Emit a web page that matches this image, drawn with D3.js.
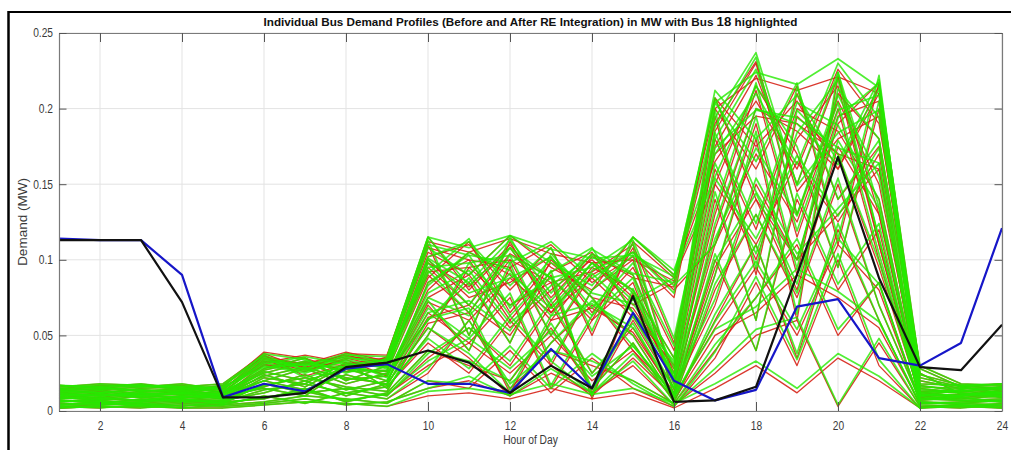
<!DOCTYPE html>
<html>
<head>
<meta charset="utf-8">
<script src="https://cdn.jsdelivr.net/npm/d3@7/dist/d3.min.js"></script>
<style>
  body { margin: 0; background: #fff; }
  svg { display: block; }
  text { font-family: "Liberation Sans", Arial, Helvetica, sans-serif; }
</style>
</head>
<body>
<svg id="chart" width="1011" height="450"></svg>
<script>
// Hours of the day on the x axis
const hours = [1,2,3,4,5,6,7,8,9,10,11,12,13,14,15,16,17,18,19,20,21,22,23,24];
const xTickValues = [2,4,6,8,10,12,14,16,18,20,22,24];
const yTickValues = [0,0.05,0.1,0.15,0.2,0.25];
const yTickLabels = ["0","0.05","0.1","0.15","0.2","0.25"];

// Demand profiles (MW) of the other buses before RE integration (red)
const busBefore = [
  [0.012,0.014,0.011,0.013,0.010,0.031,0.026,0.035,0.029,0.095,0.070,0.104,0.088,0.060,0.108,0.020,0.175,0.222,0.150,0.221,0.130,0.012,0.010,0.014],
  [0.006,0.008,0.007,0.009,0.011,0.020,0.028,0.018,0.025,0.060,0.085,0.045,0.100,0.075,0.040,0.012,0.120,0.200,0.185,0.160,0.210,0.010,0.014,0.009],
  [0.015,0.017,0.016,0.018,0.014,0.037,0.023,0.031,0.035,0.110,0.050,0.112,0.065,0.098,0.070,0.085,0.207,0.140,0.100,0.190,0.217,0.028,0.016,0.012],
  [0.003,0.004,0.005,0.003,0.006,0.008,0.015,0.006,0.012,0.040,0.030,0.020,0.055,0.015,0.045,0.006,0.060,0.110,0.035,0.120,0.060,0.004,0.003,0.005],
  [0.010,0.009,0.012,0.011,0.013,0.025,0.032,0.022,0.018,0.085,0.100,0.060,0.092,0.105,0.065,0.030,0.195,0.090,0.210,0.140,0.175,0.015,0.012,0.011],
  [0.008,0.011,0.009,0.007,0.010,0.015,0.010,0.028,0.020,0.070,0.040,0.095,0.030,0.080,0.100,0.010,0.090,0.180,0.060,0.221,0.110,0.008,0.010,0.013],
  [0.014,0.012,0.015,0.016,0.012,0.034,0.031,0.037,0.031,0.102,0.110,0.080,0.108,0.050,0.112,0.088,0.150,0.215,0.170,0.095,0.200,0.020,0.015,0.016],
  [0.004,0.006,0.003,0.005,0.004,0.010,0.005,0.012,0.008,0.025,0.060,0.015,0.040,0.030,0.020,0.005,0.040,0.075,0.110,0.050,0.085,0.006,0.004,0.003],
  [0.017,0.016,0.018,0.015,0.016,0.039,0.035,0.026,0.036,0.115,0.080,0.108,0.070,0.102,0.090,0.025,0.185,0.230,0.130,0.205,0.150,0.018,0.017,0.015],
  [0.009,0.007,0.010,0.012,0.008,0.022,0.018,0.032,0.015,0.050,0.095,0.070,0.085,0.012,0.060,0.015,0.140,0.060,0.195,0.170,0.095,0.010,0.008,0.010],
  [0.011,0.013,0.010,0.009,0.012,0.028,0.035,0.020,0.030,0.090,0.065,0.100,0.050,0.090,0.105,0.080,0.110,0.190,0.090,0.210,0.180,0.025,0.011,0.012],
  [0.002,0.003,0.002,0.004,0.003,0.005,0.008,0.004,0.006,0.015,0.020,0.010,0.025,0.012,0.030,0.004,0.025,0.050,0.060,0.003,0.045,0.003,0.002,0.004],
  [0.013,0.015,0.014,0.012,0.015,0.033,0.027,0.034,0.023,0.080,0.105,0.090,0.060,0.095,0.080,0.035,0.200,0.160,0.215,0.110,0.217,0.014,0.013,0.016],
  [0.007,0.005,0.008,0.006,0.007,0.012,0.020,0.010,0.018,0.055,0.035,0.010,0.045,0.070,0.050,0.008,0.080,0.130,0.075,0.150,0.070,0.007,0.009,0.006],
  [0.016,0.018,0.017,0.014,0.017,0.036,0.031,0.039,0.033,0.105,0.090,0.116,0.095,0.080,0.115,0.090,0.165,0.205,0.160,0.226,0.190,0.030,0.018,0.017],
  [0.005,0.004,0.006,0.008,0.005,0.018,0.012,0.015,0.010,0.035,0.055,0.030,0.070,0.025,0.055,0.010,0.100,0.040,0.140,0.080,0.120,0.005,0.006,0.007],
  [0.012,0.010,0.013,0.014,0.011,0.027,0.033,0.026,0.027,0.100,0.075,0.085,0.102,0.065,0.095,0.040,0.180,0.120,0.200,0.185,0.140,0.012,0.014,0.012],
  [0.010,0.012,0.009,0.010,0.009,0.024,0.016,0.030,0.024,0.075,0.090,0.055,0.080,0.100,0.075,0.020,0.130,0.212,0.115,0.195,0.205,0.011,0.009,0.011],
  [0.003,0.002,0.004,0.002,0.004,0.006,0.010,0.008,0.005,0.020,0.015,0.040,0.012,0.035,0.015,0.003,0.035,0.085,0.030,0.100,0.030,0.002,0.004,0.002],
  [0.015,0.014,0.016,0.017,0.014,0.035,0.029,0.036,0.034,0.108,0.100,0.095,0.110,0.085,0.102,0.075,0.207,0.175,0.205,0.160,0.215,0.022,0.016,0.018],
  [0.008,0.009,0.007,0.010,0.008,0.016,0.024,0.014,0.020,0.065,0.045,0.075,0.015,0.060,0.085,0.014,0.070,0.150,0.100,0.130,0.160,0.009,0.007,0.008],
  [0.011,0.010,0.012,0.011,0.010,0.026,0.020,0.028,0.026,0.088,0.112,0.065,0.098,0.075,0.068,0.028,0.160,0.100,0.180,0.215,0.110,0.013,0.012,0.010],
  [0.006,0.007,0.005,0.007,0.006,0.014,0.018,0.012,0.016,0.045,0.025,0.060,0.030,0.010,0.035,0.009,0.055,0.095,0.050,0.110,0.080,0.006,0.005,0.007],
  [0.014,0.016,0.013,0.015,0.013,0.032,0.037,0.032,0.030,0.098,0.082,0.110,0.075,0.104,0.088,0.082,0.190,0.231,0.145,0.180,0.195,0.016,0.015,0.014],
  [0.009,0.008,0.011,0.009,0.009,0.020,0.014,0.024,0.017,0.062,0.070,0.050,0.090,0.008,0.078,0.018,0.110,0.170,0.125,0.200,0.100,0.010,0.011,0.009],
  [0.004,0.005,0.004,0.006,0.005,0.009,0.013,0.007,0.011,0.030,0.045,0.025,0.050,0.020,0.040,0.007,0.050,0.065,0.090,0.075,0.055,0.005,0.005,0.004],
  [0.013,0.012,0.014,0.013,0.016,0.030,0.032,0.030,0.032,0.092,0.095,0.100,0.085,0.092,0.110,0.045,0.170,0.195,0.190,0.170,0.160,0.017,0.013,0.015],
  [0.007,0.006,0.006,0.008,0.007,0.017,0.022,0.016,0.013,0.058,0.065,0.012,0.060,0.068,0.052,0.012,0.095,0.140,0.080,0.175,0.130,0.008,0.007,0.006],
  [0.017,0.015,0.017,0.016,0.018,0.038,0.028,0.038,0.037,0.112,0.105,0.114,0.104,0.098,0.100,0.086,0.200,0.220,0.212,0.221,0.210,0.024,0.017,0.018],
  [0.002,0.003,0.003,0.002,0.002,0.004,0.006,0.005,0.003,0.010,0.012,0.008,0.015,0.008,0.012,0.002,0.015,0.030,0.012,0.035,0.020,0.002,0.003,0.002],
  [0.010,0.011,0.010,0.012,0.011,0.023,0.029,0.021,0.023,0.072,0.060,0.088,0.065,0.088,0.062,0.022,0.150,0.110,0.165,0.125,0.170,0.011,0.010,0.012]
];

// Demand profiles (MW) of the other buses after RE integration (green)
const busAfter = [
  [0.012,0.014,0.011,0.013,0.010,0.030,0.025,0.034,0.028,0.098,0.070,0.108,0.088,0.063,0.111,0.020,0.180,0.226,0.150,0.224,0.135,0.012,0.010,0.014],
  [0.006,0.008,0.007,0.009,0.011,0.020,0.028,0.018,0.025,0.060,0.088,0.045,0.104,0.075,0.043,0.012,0.124,0.200,0.190,0.163,0.213,0.010,0.014,0.009],
  [0.015,0.017,0.016,0.018,0.014,0.036,0.022,0.030,0.034,0.113,0.050,0.115,0.068,0.098,0.073,0.088,0.207,0.145,0.100,0.194,0.217,0.028,0.016,0.012],
  [0.003,0.004,0.005,0.003,0.006,0.008,0.015,0.006,0.012,0.040,0.033,0.020,0.058,0.015,0.045,0.006,0.064,0.110,0.038,0.124,0.060,0.004,0.003,0.005],
  [0.010,0.009,0.012,0.011,0.013,0.025,0.032,0.022,0.018,0.085,0.103,0.063,0.092,0.108,0.065,0.033,0.199,0.094,0.214,0.140,0.179,0.015,0.012,0.011],
  [0.008,0.011,0.009,0.007,0.010,0.015,0.010,0.028,0.020,0.073,0.040,0.098,0.033,0.080,0.103,0.010,0.090,0.185,0.064,0.224,0.114,0.008,0.010,0.013],
  [0.014,0.012,0.015,0.016,0.012,0.033,0.030,0.036,0.030,0.102,0.112,0.083,0.108,0.053,0.115,0.090,0.155,0.215,0.175,0.095,0.205,0.020,0.015,0.016],
  [0.004,0.006,0.003,0.005,0.004,0.010,0.005,0.012,0.008,0.028,0.060,0.018,0.040,0.033,0.020,0.005,0.044,0.075,0.114,0.054,0.085,0.006,0.004,0.003],
  [0.017,0.016,0.018,0.015,0.016,0.038,0.034,0.025,0.035,0.115,0.083,0.108,0.073,0.104,0.090,0.028,0.188,0.234,0.130,0.209,0.155,0.018,0.017,0.015],
  [0.009,0.007,0.010,0.012,0.008,0.022,0.018,0.032,0.015,0.050,0.098,0.070,0.088,0.014,0.063,0.015,0.145,0.060,0.199,0.170,0.099,0.010,0.008,0.010],
  [0.011,0.013,0.010,0.009,0.012,0.028,0.035,0.020,0.030,0.093,0.065,0.103,0.050,0.093,0.105,0.083,0.110,0.195,0.094,0.213,0.180,0.025,0.011,0.012],
  [0.002,0.003,0.002,0.004,0.003,0.005,0.008,0.004,0.006,0.015,0.023,0.010,0.028,0.012,0.033,0.004,0.028,0.054,0.062,0.004,0.048,0.003,0.002,0.004],
  [0.013,0.015,0.014,0.012,0.015,0.032,0.026,0.033,0.022,0.083,0.105,0.093,0.063,0.098,0.080,0.035,0.204,0.165,0.217,0.114,0.222,0.014,0.013,0.016],
  [0.007,0.005,0.008,0.006,0.007,0.012,0.020,0.010,0.018,0.055,0.038,0.012,0.045,0.073,0.050,0.008,0.084,0.130,0.078,0.154,0.070,0.007,0.009,0.006],
  [0.016,0.018,0.017,0.014,0.017,0.035,0.030,0.038,0.032,0.108,0.090,0.116,0.098,0.083,0.115,0.093,0.170,0.210,0.163,0.230,0.194,0.030,0.018,0.017],
  [0.005,0.004,0.006,0.008,0.005,0.018,0.012,0.015,0.010,0.038,0.055,0.033,0.073,0.025,0.058,0.010,0.104,0.040,0.144,0.084,0.124,0.005,0.006,0.007],
  [0.012,0.010,0.013,0.014,0.011,0.027,0.033,0.026,0.027,0.100,0.078,0.088,0.102,0.068,0.098,0.043,0.184,0.124,0.204,0.189,0.140,0.012,0.014,0.012],
  [0.010,0.012,0.009,0.010,0.009,0.024,0.016,0.030,0.024,0.078,0.093,0.058,0.083,0.103,0.078,0.023,0.134,0.217,0.119,0.199,0.209,0.011,0.009,0.011],
  [0.003,0.002,0.004,0.002,0.004,0.006,0.010,0.008,0.005,0.020,0.018,0.043,0.015,0.038,0.018,0.003,0.039,0.089,0.034,0.104,0.034,0.002,0.004,0.002],
  [0.015,0.014,0.016,0.017,0.014,0.034,0.028,0.035,0.033,0.110,0.103,0.098,0.112,0.088,0.105,0.078,0.212,0.180,0.209,0.165,0.219,0.022,0.016,0.018],
  [0.008,0.009,0.007,0.010,0.008,0.016,0.024,0.014,0.020,0.068,0.048,0.078,0.017,0.063,0.088,0.017,0.074,0.154,0.104,0.134,0.164,0.009,0.007,0.008],
  [0.011,0.010,0.012,0.011,0.010,0.026,0.020,0.028,0.026,0.091,0.114,0.068,0.101,0.078,0.071,0.031,0.164,0.104,0.184,0.219,0.114,0.013,0.012,0.010],
  [0.006,0.007,0.005,0.007,0.006,0.014,0.018,0.012,0.016,0.048,0.028,0.063,0.033,0.012,0.038,0.009,0.059,0.099,0.054,0.114,0.084,0.006,0.005,0.007],
  [0.014,0.016,0.013,0.015,0.013,0.031,0.036,0.031,0.029,0.101,0.085,0.113,0.078,0.107,0.091,0.085,0.194,0.237,0.149,0.184,0.199,0.016,0.015,0.014],
  [0.009,0.008,0.011,0.009,0.009,0.020,0.014,0.024,0.017,0.065,0.073,0.053,0.093,0.010,0.081,0.021,0.114,0.174,0.129,0.204,0.104,0.010,0.011,0.009],
  [0.004,0.005,0.004,0.006,0.005,0.009,0.013,0.007,0.011,0.033,0.048,0.028,0.053,0.023,0.043,0.010,0.054,0.069,0.094,0.079,0.059,0.005,0.005,0.004],
  [0.013,0.012,0.014,0.013,0.016,0.029,0.031,0.029,0.031,0.095,0.098,0.103,0.088,0.095,0.113,0.048,0.174,0.199,0.194,0.174,0.164,0.017,0.013,0.015],
  [0.007,0.006,0.006,0.008,0.007,0.017,0.022,0.016,0.013,0.061,0.068,0.014,0.063,0.071,0.055,0.015,0.099,0.144,0.084,0.179,0.134,0.008,0.007,0.006],
  [0.017,0.015,0.017,0.016,0.018,0.037,0.027,0.037,0.036,0.115,0.108,0.116,0.107,0.101,0.103,0.089,0.204,0.224,0.216,0.233,0.214,0.024,0.017,0.018],
  [0.002,0.003,0.003,0.002,0.002,0.004,0.006,0.005,0.003,0.013,0.015,0.011,0.018,0.011,0.015,0.005,0.018,0.033,0.015,0.038,0.023,0.002,0.003,0.002],
  [0.010,0.011,0.010,0.012,0.011,0.023,0.029,0.021,0.023,0.075,0.063,0.091,0.068,0.091,0.065,0.025,0.154,0.114,0.169,0.129,0.174,0.011,0.010,0.012]
];

// Bus 18, the highlighted bus
const bus18Before = [0.114,0.113,0.113,0.090,0.009,0.018,0.013,0.028,0.031,0.018,0.018,0.012,0.041,0.015,0.065,0.020,0.007,0.014,0.069,0.074,0.035,0.030,0.045,0.121];
const bus18After  = [0.113,0.113,0.113,0.072,0.009,0.009,0.012,0.029,0.032,0.040,0.032,0.012,0.030,0.015,0.076,0.006,0.007,0.016,0.090,0.168,0.088,0.029,0.027,0.057];

const titleMain = "Individual Bus Demand Profiles (Before and After RE Integration) in MW with Bus ";
const titleBus = "18";
const titleEnd = " highlighted";
const xLabel = "Hour of Day";
const yLabel = "Demand (MW)";

const svg = d3.select("#chart");
const plot = { left: 59, right: 1002, top: 33, bottom: 411 };

const x = d3.scaleLinear().domain([1, 24]).range([plot.left, plot.right]);
const y = d3.scaleLinear().domain([0, 0.25]).range([plot.bottom, plot.top]);

// Figure frame (top and left edges)
svg.append("line").attr("x1", 8.5).attr("x2", 1011).attr("y1", 12).attr("y2", 12)
  .attr("stroke", "#000").attr("stroke-width", 2);
svg.append("line").attr("x1", 8.5).attr("x2", 8.5).attr("y1", 11).attr("y2", 450)
  .attr("stroke", "#000").attr("stroke-width", 2.5);

// Grid
const grid = svg.append("g");
grid.selectAll("line.gx").data(xTickValues).join("line")
  .attr("x1", d => x(d)).attr("x2", d => x(d))
  .attr("y1", plot.top).attr("y2", plot.bottom)
  .attr("stroke", "#e3e3e3").attr("stroke-width", 1);
grid.selectAll("line.gy").data(yTickValues).join("line")
  .attr("y1", d => y(d)).attr("y2", d => y(d))
  .attr("x1", plot.left).attr("x2", plot.right)
  .attr("stroke", "#e3e3e3").attr("stroke-width", 1);

// Profile lines
const line = d3.line().x((d, i) => x(hours[i])).y(d => y(d));
const lines = svg.append("g").attr("fill", "none").attr("stroke-linejoin", "round");
lines.selectAll("path.before").data(busBefore).join("path")
  .attr("class", "before")
  .attr("d", line)
  .attr("stroke", "#d62418").attr("stroke-opacity", 0.9).attr("stroke-width", 1.3);
lines.selectAll("path.after").data(busAfter).join("path")
  .attr("class", "after")
  .attr("d", line)
  .attr("stroke", "#26ea00").attr("stroke-opacity", 0.8).attr("stroke-width", 1.7);
lines.append("path").attr("d", line(bus18Before))
  .attr("stroke", "#1616c8").attr("stroke-width", 2.2);
lines.append("path").attr("d", line(bus18After))
  .attr("stroke", "#111").attr("stroke-width", 2.2);

// Axes with inward ticks on all four sides
function squeeze(sel, f) {
  sel.each(function () {
    const w = this.getComputedTextLength();
    d3.select(this).attr("textLength", w * f).attr("lengthAdjust", "spacingAndGlyphs");
  });
}
function styleAxis(g) {
  g.select(".domain").attr("stroke", "#7a7a7a").attr("stroke-width", 1.2);
  g.selectAll(".tick line").attr("stroke", "#555").attr("stroke-width", 1);
  g.selectAll(".tick text").attr("fill", "#3a3a3a").style("font-size", "12px")
    .style("font-family", "'Liberation Sans', Arial, sans-serif");
}

const xAxis = svg.append("g").attr("transform", `translate(0,${plot.bottom})`)
  .call(d3.axisBottom(x).tickValues(xTickValues).tickFormat(d3.format("d"))
    .tickSizeInner(-9).tickSizeOuter(0).tickPadding(10));
styleAxis(xAxis);
squeeze(xAxis.selectAll(".tick text"), 0.85);

const xTop = svg.append("g").attr("transform", `translate(0,${plot.top})`)
  .call(d3.axisTop(x).tickValues(xTickValues).tickSizeInner(-9).tickSizeOuter(0).tickFormat(""));
styleAxis(xTop);

const yAxis = svg.append("g").attr("transform", `translate(${plot.left},0)`)
  .call(d3.axisLeft(y).tickValues(yTickValues).tickFormat((d, i) => yTickLabels[i])
    .tickSizeInner(-7.5).tickSizeOuter(0).tickPadding(6));
styleAxis(yAxis);
squeeze(yAxis.selectAll(".tick text"), 0.85);

const yRight = svg.append("g").attr("transform", `translate(${plot.right},0)`)
  .call(d3.axisRight(y).tickValues(yTickValues).tickSizeInner(-7.5).tickSizeOuter(0).tickFormat(""));
styleAxis(yRight);

// Title
const title = svg.append("text")
  .attr("x", (plot.left + plot.right) / 2).attr("y", 26)
  .attr("text-anchor", "middle")
  .attr("fill", "#111").style("font-weight", "bold").style("font-size", "11.5px");
title.append("tspan").text(titleMain);
title.append("tspan").style("font-size", "13px").text(titleBus);
title.append("tspan").text(titleEnd);
title.attr("textLength", 534).attr("lengthAdjust", "spacingAndGlyphs");

// Axis labels
const xl = svg.append("text")
  .attr("x", (plot.left + plot.right) / 2).attr("y", 444)
  .attr("text-anchor", "middle").attr("fill", "#3a3a3a")
  .style("font-size", "12.5px").text(xLabel);
squeeze(xl, 0.82);

const yl = svg.append("text")
  .attr("transform", `translate(27,${(plot.top + plot.bottom) / 2}) rotate(-90)`)
  .attr("text-anchor", "middle").attr("fill", "#3a3a3a")
  .style("font-size", "12.5px").text(yLabel);
squeeze(yl, 1.08);
</script>
</body>
</html>
